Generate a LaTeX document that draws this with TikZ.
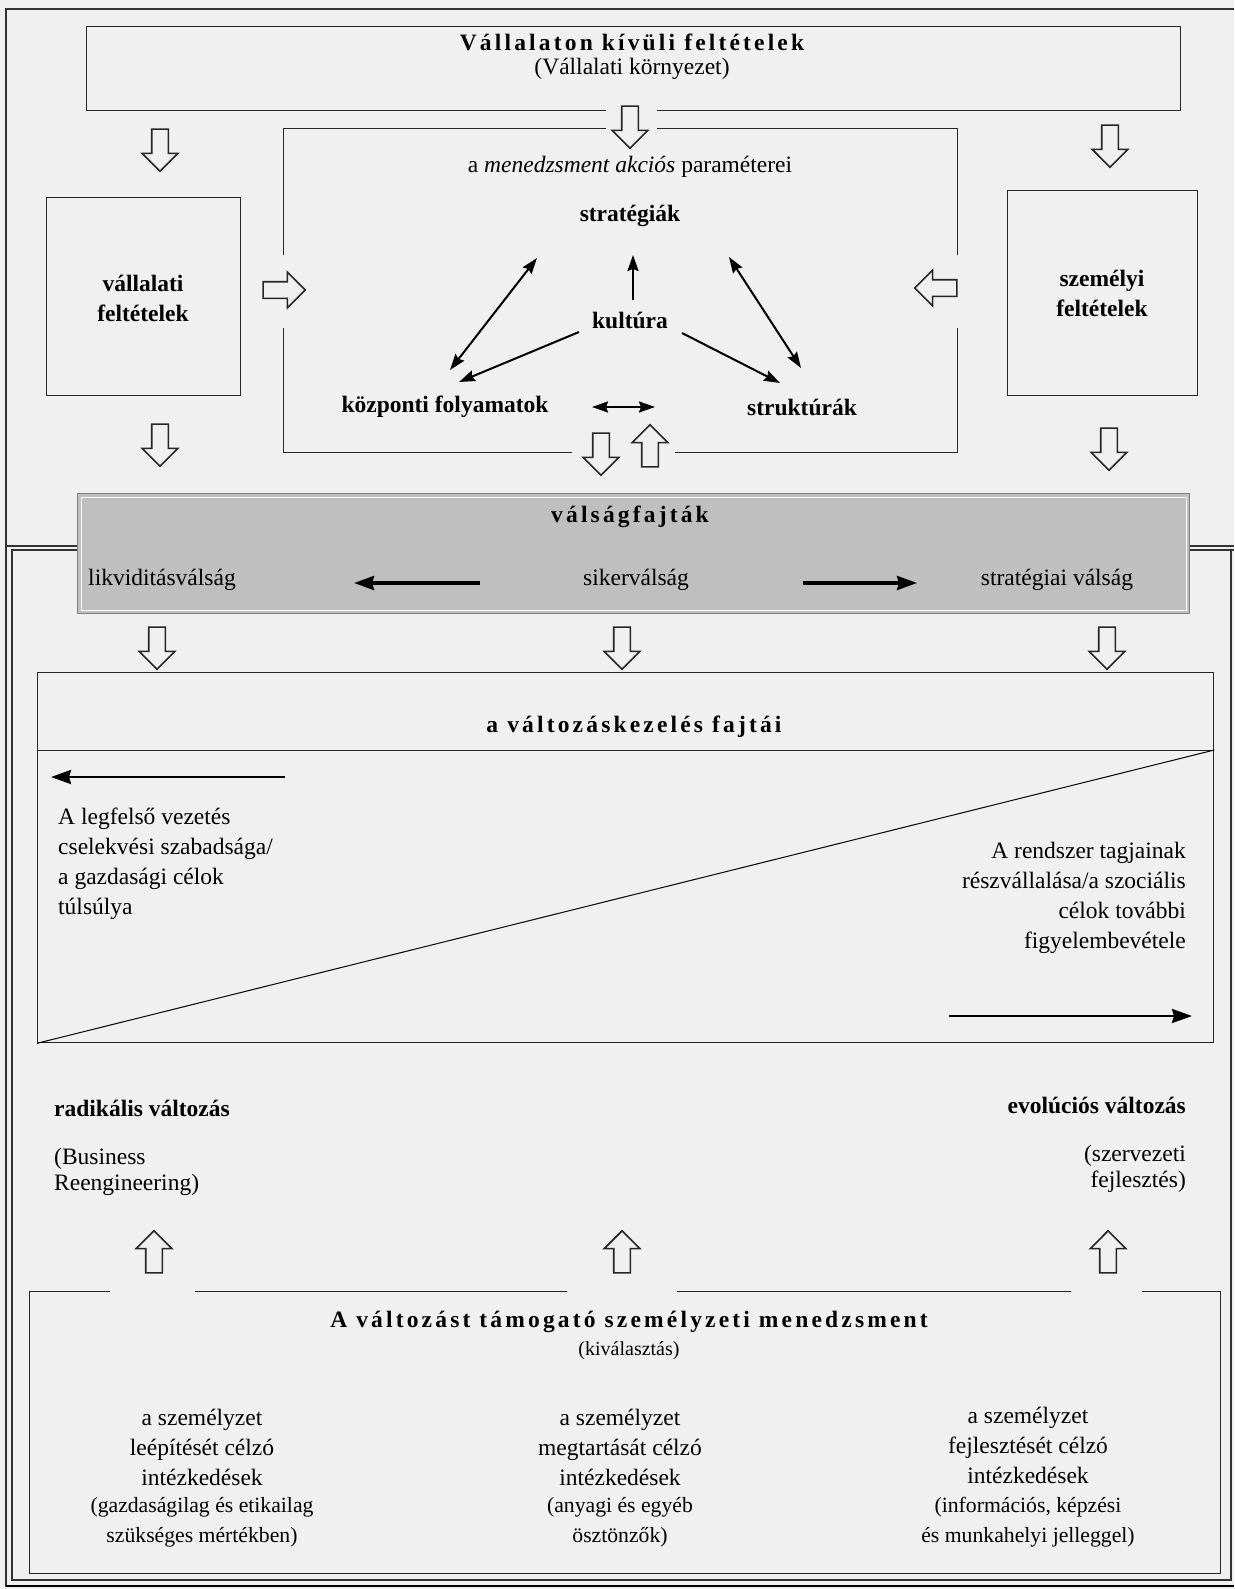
\documentclass[tikz,border=0pt]{standalone}
\usepackage{fontspec}
\setmainfont{Liberation Serif}
\usetikzlibrary{arrows.meta, shapes.arrows}
\colorlet{paper}{black!6}

\begin{document}
\begin{tikzpicture}[
    x=1pt, y=-1pt,
    box/.style={draw=black!85, line width=1.3pt, inner sep=0pt, anchor=north west},
    hollow/.style={single arrow, draw=black!85, line width=1.6pt, fill=paper,
                inner xsep=0pt, inner ysep=7.5pt, minimum height=42pt,
                minimum width=34pt, single arrow head extend=9.5pt,
                single arrow head indent=0pt},
    txt/.style={font=\fontsize{23.5}{30}\selectfont, align=center, inner sep=0pt},
    small/.style={font=\fontsize{21.7}{30}\selectfont, align=center, inner sep=0pt},
    lbl/.style={font=\fontsize{23.5}{30}\selectfont\bfseries, align=center, inner sep=0pt},
    ttl/.style={font=\fontsize{23.5}{30}\selectfont\bfseries\addfontfeature{LetterSpace=13.5},
                inner sep=0pt},
    link/.style={-{Stealth[length=16pt, width=11pt, inset=2pt]}, line width=2pt},
    twoway/.style={{Stealth[length=16pt, width=11pt, inset=2pt]}-{Stealth[length=16pt, width=11pt, inset=2pt]},
                line width=2pt},
    fat/.style={-{Stealth[length=20pt, width=14pt, inset=2pt]}, line width=3.5pt},
]
\fill[paper] (0,0) rectangle (1234,1589);
\useasboundingbox (0,0) rectangle (1234,1589);
% frame
\draw[line width=1.5pt, black!80] (1234,9) -- (6,9) -- (6,1587);
\draw[line width=1.5pt, black!80] (6,546) -- (1234,546);
\draw[line width=1.3pt, black!80] (1234,550) -- (12,550) -- (12,1580) -- (1231,1580) -- (1231,550);
\draw[line width=2.5pt] (6,1586) -- (1234,1586);
% boxes
\node[box, minimum width=1094pt, minimum height=84pt]  (env)  at (86,26)   {};
\node[box, minimum width=674pt,  minimum height=324pt] (mgmt) at (283,128)  {};
\node[box, minimum width=194pt,  minimum height=198pt] (vall) at (46,197)   {};
\node[box, minimum width=190pt,  minimum height=205pt] (szem) at (1007,190) {};
\node[box, fill=black!25, draw=black!50, minimum width=1112pt, minimum height=120pt]
    (band) at (77,493) {};
\draw[white, line width=1pt] ([shift={(4,4)}]band.north west) rectangle ([shift={(-4,-4)}]band.south east);
\node[box, minimum width=1176pt, minimum height=78pt]  (chg)  at (37,672)   {};
\node[box, minimum width=1176pt, minimum height=292pt] (tri)  at (37,750)   {};
\draw[line width=1pt] (tri.south west) -- (tri.north east);
\node[box, minimum width=1191pt, minimum height=282pt] (pers) at (29,1291)  {};
% gaps where the block arrows pass
\foreach \a/\b/\c/\d in {606/104/657/134, 277/255/289/328, 951/255/963/328,
        572/446/675/458, 110/1285/195/1297, 567/1285/677/1297, 1071/1285/1142/1297}
    \fill[paper] (\a,\b) rectangle (\c,\d);
% block arrows
\foreach \n/\x/\y/\r in {aTop/630/123/-90, aL1/160/146/-90, aR1/1110/142/-90,
        aIn/280/290/0, aOut/940/288/180, aL2/160/441/-90, aR2/1109/445/-90,
        aMd/601/450/-90, aMu/650/450/90, aL3/157/644/-90, aM3/622/644/-90,
        aR3/1107/644/-90, aL4/154/1256/90, aM4/622/1256/90, aR4/1108/1256/90}
    \node[hollow, rotate=\r] (\n) at (\x,\y) {};
% texts
\node[ttl] (envt) at (632,42) {Vállalaton kívüli feltételek};
\node[txt] (envs) at (632,69) {(Vállalati környezet)};
\node[txt] (param) at (630,167) {a \textit{menedzsment akciós} paraméterei};
\node[lbl] (strat) at (630,216) {stratégiák};
\node[lbl] (kult) at (630,320) {kultúra};
\node[lbl] (kozp) at (445,407) {központi folyamatok};
\node[lbl] (strukt) at (802,407) {struktúrák};
\node[lbl] (vallt) at (143,298) {vállalati\\feltételek};
\node[lbl] (szemt) at (1102,293) {személyi\\feltételek};
\node[ttl] (bandt) at (630,517) {válságfajták};
\node[txt] (likv) at (162,580) {likviditásválság};
\node[txt] (siker) at (636,580) {sikerválság};
\node[txt] (stv) at (1057,580) {stratégiai válság};
\node[ttl] (chgt) at (634,727) {a változáskezelés fajtái};
\node[txt, align=left, anchor=west] (felso) at (58,864)
    {A legfelső vezetés\\cselekvési szabadsága/\\a gazdasági célok\\túlsúlya};
\node[txt, align=right, anchor=east] (tagok) at (1186,898)
    {A rendszer tagjainak\\részvállalása/a szociális\\célok további\\figyelembevétele};
\node[lbl, anchor=west] (rad) at (54,1108) {radikális változás};
\node[txt, align=left, anchor=west, font=\fontsize{23.5}{26}\selectfont] (bpr) at (54,1172)
    {(Business\\Reengineering)};
\node[lbl, anchor=east] (evo) at (1186,1105) {evolúciós változás};
\node[txt, align=right, anchor=east, font=\fontsize{23.5}{26}\selectfont] (ofe) at (1186,1169)
    {(szervezeti\\fejlesztés)};
\node[ttl] (perst) at (629,1322) {A változást támogató személyzeti menedzsment};
\node[txt, font=\fontsize{20}{30}\selectfont] (kiv) at (629,1351) {(kiválasztás)};
\node[txt] (col1) at (202,1447) {a személyzet\\leépítését célzó\\intézkedések};
\node[small] (col1b) at (202,1522) {(gazdaságilag és etikailag\\szükséges mértékben)};
\node[txt] (col2) at (620,1447) {a személyzet\\megtartását célzó\\intézkedések};
\node[small] (col2b) at (620,1522) {(anyagi és egyéb\\ösztönzők)};
\node[txt] (col3) at (1028,1445) {a személyzet\\fejlesztését célzó\\intézkedések};
\node[small] (col3b) at (1028,1522) {(információs, képzési\\és munkahelyi jelleggel)};
% arrows inside the management box
\draw[twoway] ([shift={(-93,42)}]strat.center) -- ([shift={(5,-37)}]kozp.center);
\draw[twoway] ([shift={(99,41)}]strat.center) -- ([shift={(-1,-39)}]strukt.center);
\draw[link] ([shift={(-51,12)}]kult.center) -- ([shift={(14,-25)}]kozp.center);
\draw[link] ([shift={(52,13)}]kult.center) -- ([shift={(-22,-24)}]strukt.center);
\draw[link] ([shift={(3,-20)}]kult.center) -- ([shift={(3,39)}]strat.center);
\draw[twoway] ([shift={(147,0)}]kozp.center) -- ([shift={(-147,0)}]strukt.center);
% crisis arrows
\draw[fat] ([shift={(-156,3)}]siker.center) -- ([shift={(192,3)}]likv.center);
\draw[fat] ([shift={(167,3)}]siker.center) -- ([shift={(-140,3)}]stv.center);
% direction arrows in the triangle box
\coordinate (lA) at (285,777);
\coordinate (lB) at (51,777);
\coordinate (rA) at (949,1016);
\coordinate (rB) at (1192,1016);
\draw[fat, line width=2.8pt] (lA) -- (lB);
\draw[fat, line width=2.8pt] (rA) -- (rB);
\end{tikzpicture}
\end{document}
